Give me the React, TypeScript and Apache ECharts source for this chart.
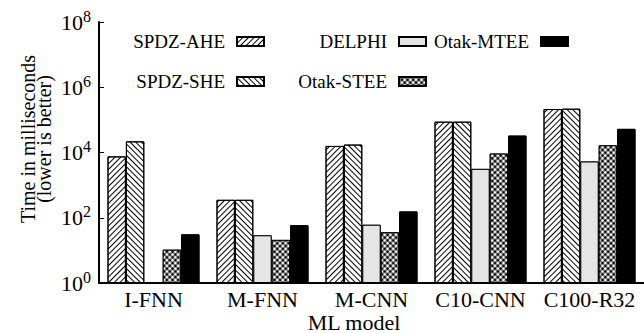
import React, { useEffect, useRef } from "react";
import * as echarts from "echarts";

const categories = ["I-FNN", "M-FNN", "M-CNN", "C10-CNN", "C100-R32"];
const seriesNames = ["SPDZ-AHE", "SPDZ-SHE", "DELPHI", "Otak-STEE", "Otak-MTEE"];
const spdzAhe = [7600, 355, 15900, 88000, 215000];
const spdzShe = [22000, 355, 17500, 88000, 220000];
const delphi: (number | null)[] = [null, 29, 61, 3150, 5300];
const otakStee = [10.5, 21, 36, 9300, 16600];
const otakMtee = [31, 59, 156, 33000, 53000];

const FONT = "'Liberation Serif', 'Times New Roman', serif";

export default function App() {
  const ref = useRef<HTMLDivElement>(null);
  useEffect(() => {
    if (!ref.current) return;
    const chart = echarts.init(ref.current, undefined, { renderer: "svg" });
    const border = { borderColor: "#000", borderWidth: 1 };
    const decals: any[] = [
      { symbol: "rect", symbolSize: 1, dashArrayX: [1, 0], dashArrayY: [1, 2.5], rotation: -Math.PI / 4, color: "#000", backgroundColor: "#fff" },
      { symbol: "rect", symbolSize: 1, dashArrayX: [1, 0], dashArrayY: [1, 2.5], rotation: Math.PI / 4, color: "#000", backgroundColor: "#fff" },
      { symbol: "rect", symbolSize: 1, dashArrayX: [1, 0], dashArrayY: [1, 0], color: "#e5e5e5", backgroundColor: "#e5e5e5" },
      { symbol: "circle", symbolSize: 0.8, dashArrayX: [4, 0], dashArrayY: [4, 0], rotation: Math.PI / 4, color: "#fff", backgroundColor: "#000" },
      { symbol: "rect", symbolSize: 1, dashArrayX: [1, 0], dashArrayY: [1, 0], color: "#000", backgroundColor: "#000" },
    ];
    const fills = ["#fff", "#fff", "#e5e5e5", "#000", "#000"];
    const datas = [spdzAhe, spdzShe, delphi, otakStee, otakMtee];
    const legendPos = [
      { right: 644 - 265, top: 32 },
      { right: 644 - 265, top: 72 },
      { right: 644 - 427, top: 32 },
      { right: 644 - 427, top: 72 },
      { right: 644 - 569, top: 32 },
    ];
    chart.setOption({
      animation: false,
      textStyle: { fontFamily: FONT },
      aria: { enabled: true, decal: { show: true } },
      grid: { left: 99, right: 0, top: 22, bottom: 50, containLabel: false },
      legend: seriesNames.map((n, i) => ({
        data: [n],
        ...legendPos[i],
        padding: 0,
        align: "right",
        icon: "rect",
        itemWidth: 27,
        itemHeight: 9,
        selectedMode: false,
        formatter: (name: string) => `{t|${name}}`,
        textStyle: {
          fontFamily: FONT,
          fontSize: 19,
          color: "#000",
          rich: { t: { fontFamily: FONT, fontSize: 19, color: "#000", lineHeight: 20, padding: [0, 7, 0, 0] } },
        },
      })),
      xAxis: {
        type: "category",
        data: categories,
        axisLine: { lineStyle: { color: "#000", width: 2 } },
        axisTick: { show: false },
        axisLabel: { fontFamily: FONT, fontSize: 22, color: "#000", margin: 5, interval: 0 },
      },
      yAxis: {
        type: "log",
        logBase: 10,
        min: 1,
        max: 1e8,
        interval: 2,
        axisLine: { show: true, lineStyle: { color: "#000", width: 2 } },
        axisTick: { show: true, inside: true, length: 5, lineStyle: { color: "#000", width: 1 } },
        splitLine: { show: false },
        axisLabel: {
          margin: 8,
          formatter: (v: number) => `{a|10}{b|${Math.round(Math.log10(v))}}`,
          rich: {
            a: { fontFamily: FONT, fontSize: 22, color: "#000" },
            b: { fontFamily: FONT, fontSize: 16, color: "#000", padding: [0, 0, 12, 0] },
          },
        },
      },
      graphic: [
        {
          type: "text",
          x: 36,
          y: 139,
          rotation: Math.PI / 2,
          style: {
            text: "Time in milliseconds\n(lower is better)",
            fontFamily: FONT,
            fontSize: 20,
            fill: "#000",
            align: "center",
            verticalAlign: "middle",
            lineHeight: 16,
          },
        },
        {
          type: "text",
          x: 354,
          y: 322,
          style: {
            text: "ML model",
            fontFamily: FONT,
            fontSize: 22,
            fill: "#000",
            align: "center",
            verticalAlign: "middle",
          },
        },
      ],
      series: seriesNames.map((n, i) => ({
        name: n,
        type: "bar",
        data: datas[i],
        barWidth: 18.4,
        barGap: "0%",
        itemStyle: { color: fills[i], ...border, decal: decals[i] },
        emphasis: { disabled: true },
      })),
    });
    return () => chart.dispose();
  }, []);
  return <div ref={ref} style={{ width: 644, height: 333, position: "absolute", left: 0, top: 0 }} />;
}
